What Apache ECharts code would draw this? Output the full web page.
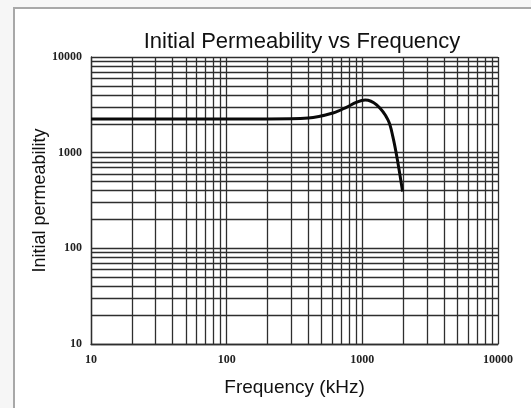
<!DOCTYPE html>
<html>
<head>
<meta charset="utf-8">
<script src="https://cdn.jsdelivr.net/npm/echarts@6/dist/echarts.min.js"></script>
<style>
  html, body { margin: 0; padding: 0; background: #f6f6f6; }
  #chart { width: 531px; height: 408px; }
</style>
</head>
<body>
<div id="chart"></div>
<script>
// data
const frequency = [10, 50, 200, 400, 607, 770, 900, 1050, 1275, 1545, 1680, 1830, 1980];
const permeability = [2250, 2250, 2250, 2300, 2600, 3000, 3350, 3550, 3150, 2200, 1460, 780, 392];

const xMinorGrid = [20, 30, 40, 50, 60, 70, 80, 90, 200, 300, 400, 500, 600, 700, 800, 900, 2000, 3000, 4000, 5000, 6000, 7000, 8000, 9000];
const yMinorGrid = [20, 30, 40, 50, 60, 70, 80, 90, 200, 300, 400, 500, 600, 700, 800, 900, 2000, 3000, 4000, 5000, 6000, 7000, 8000, 9000];

const gridColor = '#2e2e2e';
const labelFont = { color: '#222', fontFamily: 'Liberation Serif', fontSize: 12, fontWeight: 'bold' };

const chart = echarts.init(document.getElementById('chart'));

const minorLines = [];
xMinorGrid.forEach(v => minorLines.push({ xAxis: v }));
yMinorGrid.forEach(v => minorLines.push({ yAxis: v }));

const option = {
  backgroundColor: '#f6f6f6',
  animation: false,
  graphic: [
    {
      type: 'rect',
      z: -10,
      shape: { x: 14, y: 8, width: 540, height: 420 },
      style: { fill: '#ffffff', stroke: '#a8a8a8', lineWidth: 2 }
    }
  ],
  title: {
    text: 'Initial Permeability vs Frequency',
    left: 297,
    textAlign: 'center',
    top: 26,
    textStyle: { fontFamily: 'Liberation Sans', fontSize: 22, fontWeight: 'normal', color: '#111' }
  },
  grid: { left: 91, right: 33, top: 57, bottom: 64 },
  xAxis: {
    type: 'log',
    logBase: 10,
    min: 10,
    max: 10000,
    name: 'Frequency (kHz)',
    nameLocation: 'middle',
    nameGap: 34,
    nameTextStyle: { fontFamily: 'Liberation Sans', fontSize: 19, color: '#111' },
    axisLine: { show: true, lineStyle: { color: gridColor, width: 1.3 } },
    axisTick: { show: false },
    axisLabel: Object.assign({ margin: 10, formatter: v => String(v) }, labelFont),
    splitLine: { show: true, lineStyle: { color: gridColor, width: 1.3 } }
  },
  yAxis: {
    type: 'log',
    logBase: 10,
    min: 10,
    max: 10000,
    name: 'Initial permeability',
    nameLocation: 'middle',
    nameGap: 42,
    nameMoveOverlap: false,
    nameTextStyle: { fontFamily: 'Liberation Sans', fontSize: 18, color: '#111' },
    axisLine: { show: true, lineStyle: { color: gridColor, width: 1.3 } },
    axisTick: { show: false },
    axisLabel: Object.assign({ margin: 9, formatter: v => String(v) }, labelFont),
    splitLine: { show: true, lineStyle: { color: gridColor, width: 1.3 } }
  },
  series: [
    {
      type: 'line',
      data: frequency.map((f, i) => [f, permeability[i]]),
      smooth: 0.35,
      showSymbol: false,
      lineStyle: { color: '#0a0a0a', width: 3 },
      z: 5,
      markLine: {
        silent: true,
        symbol: 'none',
        label: { show: false },
        lineStyle: { color: gridColor, width: 1.3, type: 'solid' },
        data: minorLines
      }
    }
  ]
};

chart.setOption(option);
</script>
</body>
</html>
